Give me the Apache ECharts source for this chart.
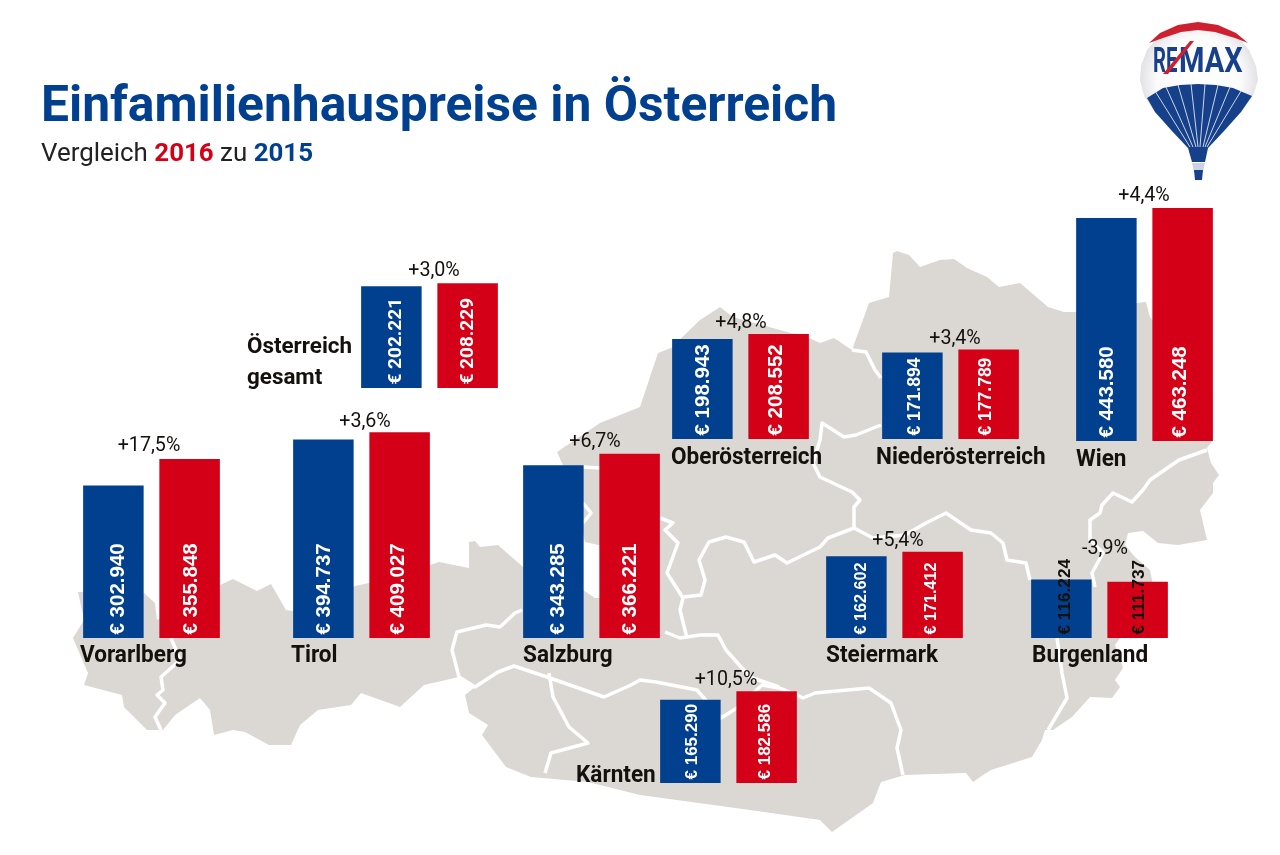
<!DOCTYPE html>
<html lang="de"><head><meta charset="utf-8"><title>Einfamilienhauspreise in Österreich</title>
<style>html,body{margin:0;padding:0;background:#fff}#c{width:1280px;height:855px}</style>
<script src="https://cdn.jsdelivr.net/npm/echarts@6/dist/echarts.min.js"></script></head><body><div id="c"></div>
<script>
// ---- data ----
const regions   = ['Vorarlberg','Tirol','Salzburg','Oberösterreich','Niederösterreich','Wien','Steiermark','Burgenland','Kärnten','Österreich\ngesamt'];
const values2015 = [302940,394737,343285,198943,171894,443580,162602,116224,165290,202221];
const values2016 = [355848,409027,366221,208552,177789,463248,171412,111737,182586,208229];
const changes   = ['+17,5%','+3,6%','+6,7%','+4,8%','+3,4%','+4,4%','+5,4%','-3,9%','+10,5%','+3,0%'];

// ---- layout (panel placement, not data) ----
const barLeft  = [83,293,523,672,882,1076,826,1031,660,361];
const baseline = [638,638,638,439,439,441,638,638,783,388];
const labelFont= [20.5,20.5,20.5,20.5,17.5,20.5,16.2,17.2,17,19];
const labelDx15= [5,1,5,1,3,1,5,4,2,5];
const labelDx16= [2,-1.5,1,-2,-2,-2,-1,2,-1,1];
const nameX    = [80,291,523,671,876,1076,826,1032,576,247];
const nameY    = [656,656,656,458,458,460,656,656,776,347];
const changeX  = [149,365,595,741,955,1144,898,1105,726,434];
const changeY  = [446,422,442,323,339,196,541,549,680,271];
const BLUE='#00408f', RED='#d40018', LAND='#dbd8d4', INK='#14100c';
const axisMax=500000, pxPerEuro=0.000503, plotH=axisMax*pxPerEuro;
const fmt=v=>'€ '+String(v).replace(/\B(?=(\d{3})+$)/g,'.');

// ---- decorative map of Austria ----
const outline=[[78,592],[144,593],[155,603],[157,620],[190,600],[220,585],[233,579],[257,591],[271,584],[286,610],[292,611],[355,586],[369,583],[430,565],[439,562],[469,568],[469,542],[475,541],[480,547],[498,545],[523,567],[560,585],[583,590],[595,598],[605,598],[603,546],[585,542],[578,510],[562,463],[557,452],[600,423],[640,407],[658,353],[671,348],[700,320],[720,307],[733,317],[809,338],[820,343],[834,338],[852,350],[869,303],[889,297],[893,253],[897,251],[909,255],[920,267],[940,260],[954,259],[967,268],[987,277],[999,287],[1020,283],[1048,307],[1064,312],[1076,312],[1136,303],[1146,302],[1150,317],[1213,400],[1213,440],[1207,448],[1211,463],[1219,475],[1213,483],[1213,493],[1200,510],[1207,540],[1178,545],[1158,543],[1143,531],[1128,533],[1125,545],[1135,557],[1150,570],[1153,585],[1120,638],[1115,645],[1123,668],[1115,680],[1120,687],[1112,698],[1090,697],[1072,717],[1053,730],[1045,730],[1042,740],[1032,757],[991,770],[983,775],[973,782],[966,773],[905,775],[881,782],[873,803],[832,832],[820,820],[750,810],[640,795],[588,782],[531,777],[506,767],[482,735],[488,725],[469,713],[465,695],[475,687],[459,677],[424,685],[400,707],[361,693],[351,705],[318,710],[300,725],[291,745],[269,745],[245,732],[233,730],[214,735],[210,710],[200,698],[175,715],[163,730],[147,730],[124,707],[122,695],[84,685],[88,673],[73,638],[84,620]];
const borders=[
 [[171,638],[180,660],[161,677],[163,690],[157,695],[165,703],[155,717],[161,730]],
 [[522,610],[515,613],[500,627],[486,625],[457,632],[452,650],[459,677],[475,687],[498,672],[514,666],[547,677],[604,697],[631,685],[640,680],[656,682],[697,690],[721,718],[737,708],[762,685],[779,688],[797,695],[803,698],[815,693],[869,688],[891,703],[901,730],[897,748],[903,775]],
 [[549,673],[553,697],[569,727],[588,743],[551,753],[545,773]],
 [[779,687],[750,677],[726,650],[718,635],[700,635],[680,638],[665,632]],
 [[687,638],[680,610],[683,598],[667,573],[678,543],[665,530],[673,523],[660,518]],
 [[583,467],[600,468]],[[583,503],[591,513],[583,523]],
 [[684,597],[701,595],[705,580],[699,560],[709,542],[726,537],[744,542],[754,562],[775,555],[787,563],[820,547],[828,538],[854,528],[873,538],[905,535],[926,523],[946,513],[971,530],[991,533],[1003,543],[1007,560],[1026,563],[1030,580]],
 [[854,528],[854,507],[860,500],[852,492],[820,477],[813,463],[820,440],[822,423],[844,437],[856,435],[881,425]],
 [[852,350],[866,352],[875,370],[881,378]],
 [[1057,638],[1062,673],[1067,698],[1048,730]],
 [[1207,450],[1179,460],[1150,480],[1143,490],[1132,502],[1113,493],[1102,505],[1100,513],[1090,520],[1090,540],[1103,553],[1092,573],[1095,587]]
];

const grids=[],xAxes=[],yAxes=[],series=[];
regions.forEach((name,i)=>{
  grids.push({left:barLeft[i],width:137,top:baseline[i]-plotH,height:plotH,containLabel:false});
  xAxes.push({type:'category',gridIndex:i,data:[name],show:false});
  yAxes.push({type:'value',gridIndex:i,min:0,max:axisMax,show:false});
  const labelColor=name==='Burgenland'?'#14100c':'#fff';
  const family=name.includes('\n')?'Roboto':'Liberation Sans';
  [[values2015,BLUE,'2015',labelDx15],[values2016,RED,'2016',labelDx16]].forEach(([vals,color,yr,dx])=>{
    series.push({type:'bar',name:yr,xAxisIndex:i,yAxisIndex:i,data:[vals[i]],barWidth:60.5,barGap:'26%',
      itemStyle:{color},silent:true,z:3,
      label:{show:true,position:'insideBottom',distance:3.5,rotate:90,align:'left',verticalAlign:'middle',offset:[0,dx[i]],
        formatter:p=>fmt(p.value),color:labelColor,fontFamily:family,fontWeight:'bold',fontSize:labelFont[i]}});
  });
});

const txt=(x,y,text,style,extra)=>Object.assign({type:'text',x,y,z:20,style:Object.assign({text,textVerticalAlign:'middle'},style)},extra||{});
const graphics=[
  {type:'polygon',z:0,shape:{points:outline},style:{fill:LAND}},
  ...borders.map(p=>({type:'polyline',z:1,shape:{points:p},style:{stroke:'#fff',lineWidth:3.5,fill:null,lineJoin:'round'}})),
];
regions.forEach((name,i)=>{
  if(name.includes('\n')){
    const parts=name.split('\n');
    graphics.push(txt(nameX[i],nameY[i],parts[0],{font:'700 22.4px Roboto',fill:INK}));
    graphics.push(txt(nameX[i],nameY[i]+31,parts[1],{font:'700 22.4px Roboto',fill:INK}));
  } else {
    graphics.push(txt(nameX[i],nameY[i],name,{font:'700 23px Roboto',fill:INK},{scaleX:0.98}));
  }
  graphics.push(txt(changeX[i],changeY[i],changes[i],{font:'400 20.5px Roboto',fill:INK,textAlign:'center'},{scaleX:0.96}));
});
// RE/MAX balloon
const envelope=[[1198,22],[1178,25],[1160,35],[1147,50],[1141,66],[1140,80],[1144,96],[1155,112],[1172,131],[1188,148],[1208,148],[1224,131],[1241,112],[1253,96],[1258,80],[1256,66],[1249,50],[1236,35],[1218,25]];
const crown=[[1149,43],[1160,33],[1178,25],[1198,22],[1218,25],[1236,33],[1248,43],[1235,38],[1215,32],[1198,30],[1181,32],[1163,38]];
const belly=[[1147,98],[1163,88],[1180,85],[1198,84],[1216,85],[1233,88],[1252,96],[1241,112],[1224,131],[1208,148],[1188,148],[1172,131],[1155,112]];
graphics.push(
  {type:'polygon',z:5,shape:{points:envelope},style:{fill:{type:'radial',x:0.5,y:0.45,r:0.55,colorStops:[{offset:0,color:'#ffffff'},{offset:0.65,color:'#fbfbfc'},{offset:1,color:'#d9d9dd'}]}}},
  {type:'polygon',z:6,shape:{points:crown},style:{fill:'#cf2030'}},
  {type:'polygon',z:6,shape:{points:belly},style:{fill:'#17408b'}},
  ...[[1155,91,1190,147],[1166,87,1193,147],[1178,85,1196,147],[1191,84,1198,147],[1205,84,1200,147],[1218,85,1203,147],[1230,87,1205,147],[1241,91,1207,147]].map(l=>({type:'line',z:7,shape:{x1:l[0],y1:l[1],x2:l[2],y2:l[3]},style:{stroke:'#dfe6f3',lineWidth:0.9}})),
  {type:'polygon',z:7,shape:{points:[[1188,148],[1208,148],[1205,162],[1192,162]]},style:{fill:'#17408b'}},
  {type:'polygon',z:7,shape:{points:[[1192,163],[1205,163],[1203,172],[1194,172]]},style:{fill:'#c9d2e6'}},
  {type:'polygon',z:7,shape:{points:[[1194,170],[1203,170],[1202,180],[1195,180]]},style:{fill:'#17408b'}},
  txt(1153,63,'RE',{font:'700 35px Roboto',fill:'#17408b'},{scaleX:0.58,z:8}),
  {type:'polygon',z:9,shape:{points:[[1163,74],[1190,41],[1194,41],[1168,74]]},style:{fill:'#cf2030'}},
  txt(1179,63,'MAX',{font:'700 35px Roboto',fill:'#17408b'},{scaleX:0.83,z:8})
);

const chart=echarts.init(document.getElementById('c'),null,{renderer:'canvas'});
chart.setOption({
  animation:false,backgroundColor:'#fff',
  title:[
    {text:'Einfamilienhauspreise in Österreich',left:41,top:84,padding:0,textStyle:{fontFamily:'Roboto',fontWeight:700,fontSize:49.75,color:BLUE}},
    {text:'{a|Vergleich }{b|2016}{a| zu }{c|2015}',left:41,top:142,padding:0,textStyle:{fontWeight:'normal',rich:{
      a:{fontFamily:'Roboto',fontSize:25.9,fontWeight:'normal',color:'#222'},
      b:{fontFamily:'Roboto',fontSize:25.9,fontWeight:700,color:RED},
      c:{fontFamily:'Roboto',fontSize:25.9,fontWeight:700,color:BLUE}}}}
  ],
  grid:grids,xAxis:xAxes,yAxis:yAxes,series,graphic:graphics,legend:{show:false},tooltip:{show:false}
});
</script></body></html>
